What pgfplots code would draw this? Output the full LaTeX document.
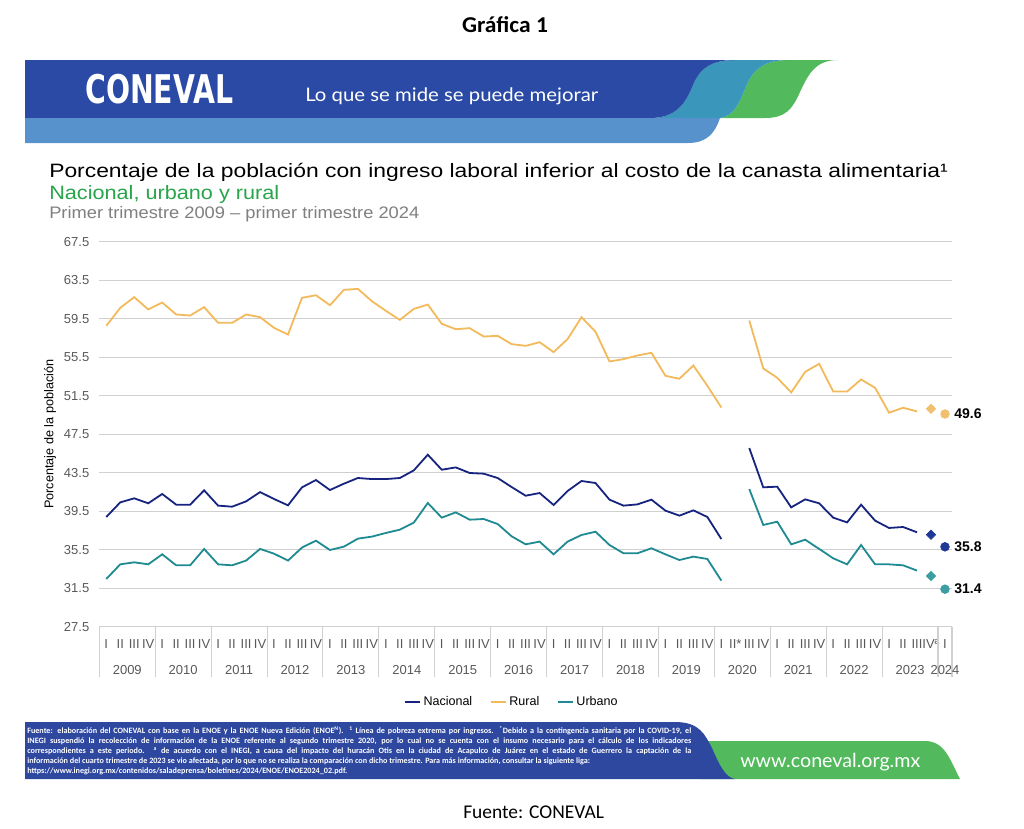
\documentclass[border=0pt]{standalone}
\usepackage{fontspec}
\usepackage{pgfplots}
\usepackage{pgfplotstable}
\pgfplotsset{compat=1.18}
\usepackage{graphicx}
\setmainfont{Liberation Sans}
\newfontfamily\calibri{Carlito}
\newfontfamily\lato{Lato}
\newfontfamily\dejavu{DejaVu Sans}

\definecolor{nac}{RGB}{22,36,128}
\definecolor{rur}{RGB}{243,186,92}
\definecolor{urb}{RGB}{30,138,145}
\definecolor{nacm}{RGB}{32,56,150}
\definecolor{rurm}{RGB}{240,192,110}
\definecolor{urbm}{RGB}{58,158,162}
\definecolor{gridc}{RGB}{208,208,208}
\definecolor{tickc}{RGB}{89,89,89}
\definecolor{bandark}{RGB}{42,74,165}
\definecolor{banlight}{RGB}{88,146,204}
\definecolor{banteal}{RGB}{58,150,186}
\definecolor{bangreen}{RGB}{82,186,92}
\definecolor{titgreen}{RGB}{40,165,75}
\definecolor{titgray}{RGB}{128,128,128}
\definecolor{footblue}{RGB}{46,72,160}

\pgfplotstableread{
i nac rur urb
0 38.90 58.76 32.46
1 40.42 60.63 33.98
2 40.84 61.74 34.19
3 40.32 60.46 33.98
4 41.29 61.18 35.02
5 40.18 59.94 33.88
6 40.18 59.83 33.88
7 41.67 60.70 35.58
8 40.08 59.07 33.98
9 39.97 59.07 33.88
10 40.52 59.94 34.37
11 41.49 59.66 35.58
12 40.77 58.55 35.09
13 40.11 57.86 34.37
14 41.98 61.67 35.72
15 42.74 61.94 36.44
16 41.70 60.90 35.47
17 42.36 62.50 35.82
18 42.95 62.60 36.65
19 42.84 61.32 36.86
20 42.84 60.32 37.24
21 42.95 59.38 37.58
22 43.74 60.52 38.31
23 45.37 60.97 40.35
24 43.81 58.97 38.83
25 44.05 58.41 39.38
26 43.47 58.52 38.62
27 43.40 57.65 38.69
28 42.95 57.72 38.17
29 42.01 56.86 36.89
30 41.11 56.68 36.06
31 41.39 57.06 36.34
32 40.15 56.03 35.02
33 41.60 57.38 36.34
34 42.64 59.66 37.03
35 42.43 58.14 37.37
36 40.70 55.06 35.99
37 40.08 55.30 35.13
38 40.21 55.68 35.13
39 40.70 55.96 35.65
40 39.56 53.57 35.02
41 39.04 53.26 34.43
42 39.59 54.64 34.78
43 38.90 52.53 34.54
44 36.61 50.28 32.29
45 nan nan nan
46 46.06 59.31 41.80
47 41.98 54.33 38.07
48 42.05 53.36 38.41
49 39.90 51.84 36.06
50 40.73 53.98 36.54
51 40.32 54.81 35.58
52 38.83 51.94 34.61
53 38.34 51.94 33.98
54 40.18 53.19 35.99
55 38.52 52.32 33.98
56 37.76 49.73 33.98
57 37.86 50.25 33.88
58 37.31 49.87 33.33
}\datatable

\pgfplotstableread{
i nac rur urb
59 37.06 50.14 32.77
}\diamdata

\pgfplotstableread{
i nac rur urb
60 35.8 49.6 31.4
}\circdata

\begin{document}
\begin{tikzpicture}
\begin{scope}[x=0.75pt,y=-0.75pt]
\fill[white] (0,0) rectangle (1024,828);
\useasboundingbox (0,0) rectangle (1024,828);
% header
\node[anchor=base, inner sep=0] at (505,32) {\resizebox{64.5pt}{\height}{\fontsize{17}{20}\calibri\bfseries Gráfica 1}};
% banner
\fill[bangreen] (718,118) .. controls (735,118) and (740,100) .. (748,82) .. controls (756,66) and (768,60) .. (790,60) -- (838,60) .. controls (815,60) and (808,75) .. (800,92) .. controls (792,110) and (785,118) .. (765,118) -- cycle;
\fill[banteal] (650,118) .. controls (675,118) and (685,105) .. (693,85) .. controls (700,68) and (712,60) .. (735,60) -- (790,60) .. controls (768,60) and (756,66) .. (748,82) .. controls (740,100) and (735,118) .. (718,118) -- cycle;
\fill[bandark] (25,60) -- (735,60) .. controls (712,60) and (700,68) .. (693,85) .. controls (685,105) and (675,118) .. (650,118) -- (25,118) -- cycle;
\fill[banlight] (25,118) -- (720,118) .. controls (715,133) and (707,143) .. (688,143) -- (25,143) -- cycle;
\node[anchor=west, inner sep=0, text=white] at (85,89) {\resizebox{111pt}{22pt}{\dejavu\bfseries CONEVAL}};
\node[anchor=base west, inner sep=0, text=white] at (305,101) {\resizebox{219.75pt}{\height}{\fontsize{14}{16}\lato Lo que se mide se puede mejorar}};
% titles
\node[anchor=base west, inner sep=0] at (49,177) {\resizebox{674pt}{\height}{\fontsize{14.5}{17}\selectfont Porcentaje de la población con ingreso laboral inferior al costo de la canasta alimentaria¹}};
\node[anchor=base west, inner sep=0, text=titgreen] at (49,199) {\resizebox{172.5pt}{\height}{\fontsize{14.5}{17}\selectfont Nacional, urbano y rural}};
\node[anchor=base west, inner sep=0, text=titgray] at (49,218) {\resizebox{277.5pt}{\height}{\fontsize{12.5}{15}\selectfont Primer trimestre 2009 – primer trimestre 2024}};
% footer
\fill[bangreen] (700,741) -- (925,741) .. controls (945,741) and (950,760) .. (960,779) -- (700,779) -- cycle;
\fill[footblue] (25,722) -- (675,722) .. controls (700,722) and (705,735) .. (712,748) .. controls (718,762) and (725,778) .. (735,779) -- (25,779) -- cycle;
\node[anchor=north west, inner sep=0, text=white, align=left, font=\fontsize{6.1}{7.5}\calibri\bfseries] at (27,726) {%
\makebox[498pt][s]{Fuente: elaboración del CONEVAL con base en la ENOE y la ENOE Nueva Edición (ENOE\textsuperscript{N}). \textsuperscript{1} Línea de pobreza extrema por ingresos. \textsuperscript{*}Debido a la contingencia sanitaria por la COVID-19, el}\\
\makebox[498pt][s]{INEGI suspendió la recolección de información de la ENOE referente al segundo trimestre 2020, por lo cual no se cuenta con el insumo necesario para el cálculo de los indicadores}\\
\makebox[498pt][s]{correspondientes a este periodo. \textsuperscript{a} de acuerdo con el INEGI, a causa del impacto del huracán Otis en la ciudad de Acapulco de Juárez en el estado de Guerrero la captación de la}\\
información del cuarto trimestre de 2023 se vio afectada, por lo que no se realiza la comparación con dicho trimestre. Para más información, consultar la siguiente liga:\\
https://www.inegi.org.mx/contenidos/saladeprensa/boletines/2024/ENOE/ENOE2024\_02.pdf.};
\node[anchor=base west, inner sep=0, text=white] at (740,767) {\resizebox{135pt}{\height}{\fontsize{14.5}{17}\lato www.coneval.org.mx}};
\node[anchor=base west, inner sep=0] at (463,818) {\fontsize{14.6}{17}\calibri Fuente: CONEVAL};
\end{scope}

\begin{axis}[
  at={(74.475pt,-470.025pt)}, anchor=south west,
  width=639.5pt, height=288.75pt, scale only axis,
  xmin=-0.5, xmax=60.5, ymin=27.5, ymax=67.5,
  axis line style={draw=none},
  major tick length=0pt,
  ytick={27.5,31.5,35.5,39.5,43.5,47.5,51.5,55.5,59.5,63.5,67.5},
  yticklabel={\pgfmathprintnumber[fixed,fixed zerofill,precision=1,assume math mode=true]{\tick}},
  yticklabel style={font=\fontsize{9.75}{11}\selectfont, text=tickc, xshift=-4pt},
  ymajorgrids, grid style={gridc, line width=0.9pt},
  xtick={0,...,60},
  xticklabels={I,II,III,IV,I,II,III,IV,I,II,III,IV,I,II,III,IV,I,II,III,IV,I,II,III,IV,I,II,III,IV,I,II,III,IV,I,II,III,IV,I,II,III,IV,I,II,III,IV,I,II*,III,IV,I,II,III,IV,I,II,III,IV,I,II,III,IVª,I},
  xticklabel style={font=\fontsize{9.75}{11}\selectfont, text=tickc, anchor=base, yshift=-16pt},
  ylabel={Porcentaje de la población},
  ylabel style={at={(axis description cs:-0.0578,0.5)}, anchor=center, font=\fontsize{9.5}{11}\selectfont},
  clip=false,
  unbounded coords=jump,
  legend columns=3,
  legend style={at={(axis description cs:0.484,-0.1956)}, anchor=center, draw=none, fill=none, font=\fontsize{9.4}{11}\selectfont, /tikz/every even column/.append style={column sep=11pt}},
  legend image code/.code={\draw[#1] (0pt,0pt) -- (11.5pt,0pt);},
]
\addplot[nac, line width=1.35pt, mark=none] table[x=i,y=nac]{\datatable};
\addlegendentry{Nacional}
\addplot[rur, line width=1.35pt, mark=none] table[x=i,y=rur]{\datatable};
\addlegendentry{Rural}
\addplot[urb, line width=1.35pt, mark=none] table[x=i,y=urb]{\datatable};
\addlegendentry{Urbano}

\addplot[forget plot, only marks, mark=square*, mark size=2.5pt, mark options={rotate=45, fill=nacm, draw=nacm}] table[x=i,y=nac]{\diamdata};
\addplot[forget plot, only marks, mark=square*, mark size=2.5pt, mark options={rotate=45, fill=rurm, draw=rurm}] table[x=i,y=rur]{\diamdata};
\addplot[forget plot, only marks, mark=square*, mark size=2.5pt, mark options={rotate=45, fill=urbm, draw=urbm}] table[x=i,y=urb]{\diamdata};

\addplot[forget plot, only marks, mark=*, mark size=3.3pt, mark options={fill=nacm, draw=nacm}, point meta=y, nodes near coords={\pgfmathprintnumber[fixed,fixed zerofill,precision=1,assume math mode=true]{\pgfplotspointmeta}}, every node near coord/.append style={anchor=west, xshift=3.5pt, text=black, font=\fontsize{10.5}{12}\selectfont\bfseries}] table[x=i,y=nac]{\circdata};
\addplot[forget plot, only marks, mark=*, mark size=3.3pt, mark options={fill=rurm, draw=rurm}, point meta=y, nodes near coords={\pgfmathprintnumber[fixed,fixed zerofill,precision=1,assume math mode=true]{\pgfplotspointmeta}}, every node near coord/.append style={anchor=west, xshift=3.5pt, text=black, font=\fontsize{10.5}{12}\selectfont\bfseries}] table[x=i,y=rur]{\circdata};
\addplot[forget plot, only marks, mark=*, mark size=3.3pt, mark options={fill=urbm, draw=urbm}, point meta=y, nodes near coords={\pgfmathprintnumber[fixed,fixed zerofill,precision=1,assume math mode=true]{\pgfplotspointmeta}}, every node near coord/.append style={anchor=west, xshift=3.5pt, text=black, font=\fontsize{10.5}{12}\selectfont\bfseries}] table[x=i,y=urb]{\circdata};

% year separators and year labels
\pgfplotsinvokeforeach{-0.5,3.5,7.5,11.5,15.5,19.5,23.5,27.5,31.5,35.5,39.5,43.5,47.5,51.5,55.5,59.5,60.5}{
  \draw[gridc, line width=0.8pt] (axis cs:#1,27.5) -- (axis cs:#1,22.27);
}
\pgfplotsinvokeforeach{0,...,14}{
  \node[anchor=base, inner sep=0, text=tickc, font=\fontsize{9.75}{11}\selectfont] at (axis cs:{4*#1+1.5},27.5) [yshift=-35.5pt] {\the\numexpr2009+#1\relax};
}
\node[anchor=base, inner sep=0, text=tickc, font=\fontsize{9.75}{11}\selectfont] at (axis cs:60,27.5) [yshift=-35.5pt] {2024};
\end{axis}
\end{tikzpicture}
\end{document}
